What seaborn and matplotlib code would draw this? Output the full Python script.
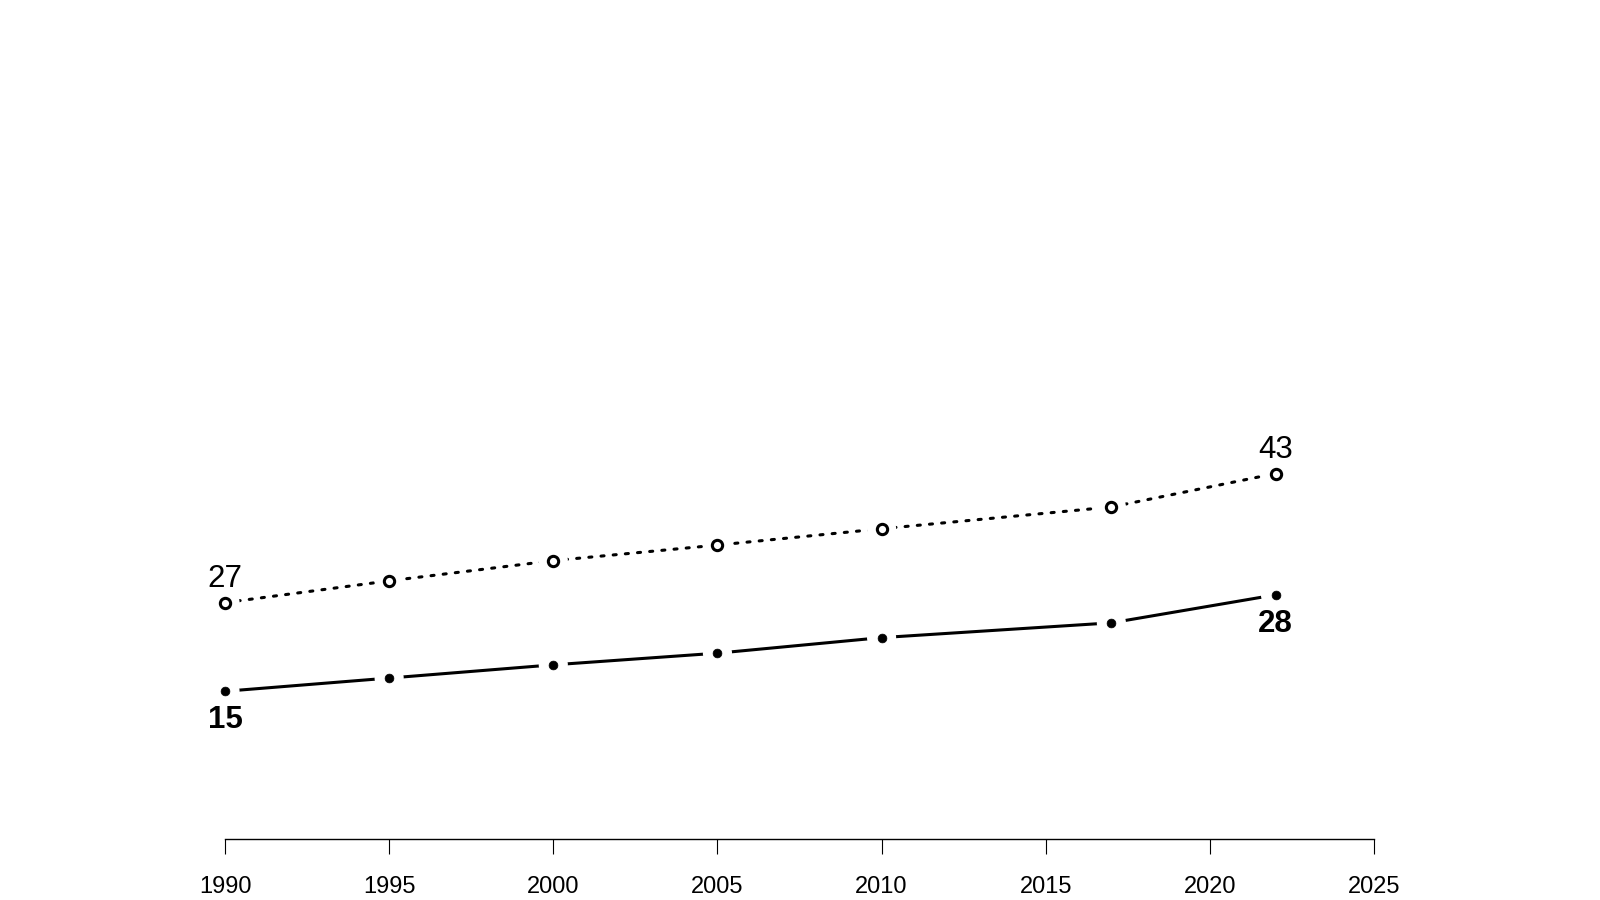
import matplotlib
matplotlib.use('Agg')
import matplotlib.pyplot as plt
import seaborn as sns
import pandas as pd

# datos
years = [1990, 1995, 2000, 2005, 2010, 2017, 2022]
dotted_vals = [26.7, 29.5, 32.1, 34.1, 36.2, 39.0, 43.3]
solid_vals = [15.3, 17.0, 18.7, 20.2, 22.2, 24.1, 27.7]
x_ticks = [1990, 1995, 2000, 2005, 2010, 2015, 2020, 2025]

df = pd.DataFrame({'year': years, 'dotted': dotted_vals, 'solid': solid_vals})

sns.set_style('white')
plt.rcParams['font.family'] = ['Liberation Sans', 'DejaVu Sans']
plt.rcParams['text.color'] = 'black'

fig = plt.figure(figsize=(16, 9), dpi=100)
ax = fig.add_axes([225 / 1600, 61 / 900, 1149 / 1600, 839 / 900])

# lineas
sns.lineplot(data=df, x='year', y='dotted', ax=ax, color='black', lw=2.2,
             linestyle=(0, (1, 3)), dash_capstyle='round', zorder=2)
sns.lineplot(data=df, x='year', y='solid', ax=ax, color='black', lw=2.2, zorder=2)

# huecos blancos alrededor de los puntos (estilo type="b")
for col in ['dotted', 'solid']:
    ax.scatter(df['year'], df[col], s=440, c='white', edgecolors='none',
               zorder=5, clip_on=False)

# marcadores
sns.scatterplot(data=df, x='year', y='dotted', ax=ax, s=55, facecolor='white',
                edgecolor='black', linewidth=2.2, zorder=6, clip_on=False)
sns.scatterplot(data=df, x='year', y='solid', ax=ax, s=40, color='black',
                edgecolor='black', linewidth=0.5, zorder=6, clip_on=False)

# etiquetas de primer y ultimo valor
for i in [0, len(years) - 1]:
    ax.annotate(f"{round(dotted_vals[i])}", (years[i], dotted_vals[i]), xytext=(0, 17),
                textcoords='offset points', ha='center', va='center', fontsize=22.5,
                color='black', zorder=7)
    ax.annotate(f"{round(solid_vals[i])}", (years[i], solid_vals[i]), xytext=(0, -21),
                textcoords='offset points', ha='center', va='center', fontsize=22.5,
                fontweight='bold', color='black', zorder=7)

ax.set_xlim(1990, 2025)
ax.set_ylim(-3.7, 104.2)
ax.set_xticks(x_ticks)
ax.set_yticks([])
ax.set_xlabel('')
ax.set_ylabel('')
for s in ['top', 'right', 'left']:
    ax.spines[s].set_visible(False)
ax.spines['bottom'].set_linewidth(1.0)
ax.spines['bottom'].set_color('black')
ax.tick_params(axis='x', direction='out', length=10.5, width=0.8, pad=16,
               labelsize=17, colors='black', bottom=True)

fig.savefig('out.png', dpi=100)
